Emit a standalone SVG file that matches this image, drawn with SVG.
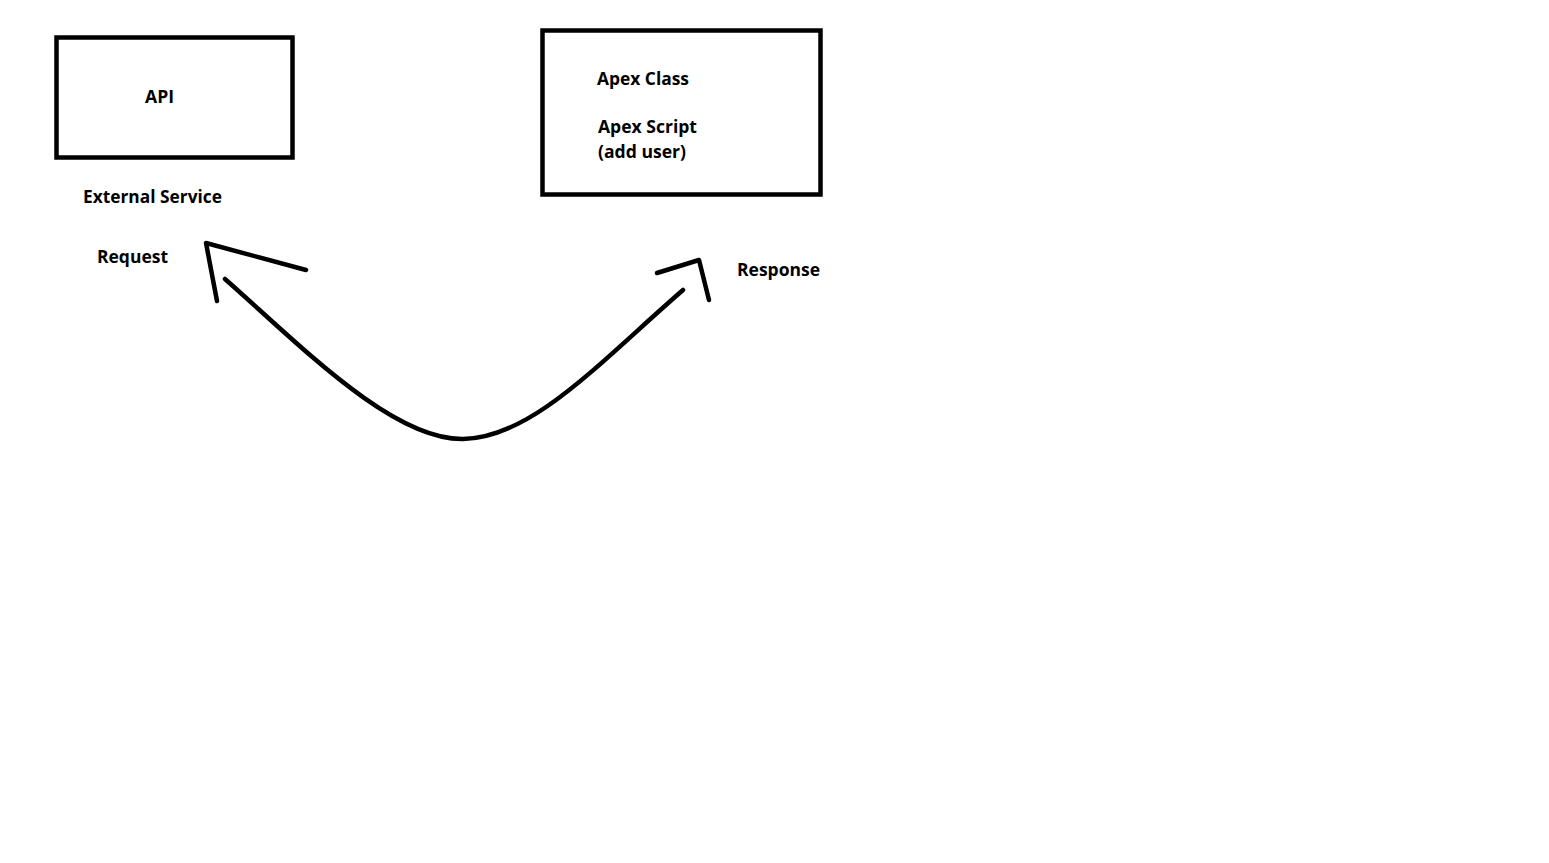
<svg xmlns="http://www.w3.org/2000/svg" width="1549" height="863" viewBox="0 0 1549 863">
<style>
.box{fill:none;stroke:#000;stroke-width:4.5}
.t{font-family:"Open Sans","Noto Sans",sans-serif;font-weight:bold;font-size:17px;fill:#000}
.c{fill:none;stroke:#000;stroke-width:4.5;stroke-linecap:round;stroke-linejoin:round}
</style>
<rect width="1549" height="863" fill="#fff"/>
<g id="api">
<rect class="box" x="56.5" y="37.5" width="236" height="120"/>
<text class="t" x="145" y="102.5" textLength="29" lengthAdjust="spacingAndGlyphs">API</text>
</g>
<g id="external-service">
<text class="t" x="83" y="202.5" textLength="139" lengthAdjust="spacingAndGlyphs">External Service</text>
</g>
<g id="apex">
<rect class="box" x="542.5" y="30.5" width="278" height="164"/>
<text class="t" x="597" y="84.5" textLength="92" lengthAdjust="spacingAndGlyphs">Apex Class</text>
<text class="t" x="598" y="132.5" textLength="99" lengthAdjust="spacingAndGlyphs">Apex Script</text>
<text class="t" x="598" y="157.5" textLength="88" lengthAdjust="spacingAndGlyphs">(add user)</text>
</g>
<g id="connectors">
<path class="c" d="M225,279 C300,345 392,440 463,439 C532,438 600,362 683,290"/>
<path class="c" d="M306,270 L206,243 L217,301"/>
<path class="c" d="M657,273 L699,260 L709,300"/>
<text class="t" x="97" y="262.5" textLength="71" lengthAdjust="spacingAndGlyphs">Request</text>
<text class="t" x="737" y="275.5" textLength="83" lengthAdjust="spacingAndGlyphs">Response</text>
</g>
</svg>
